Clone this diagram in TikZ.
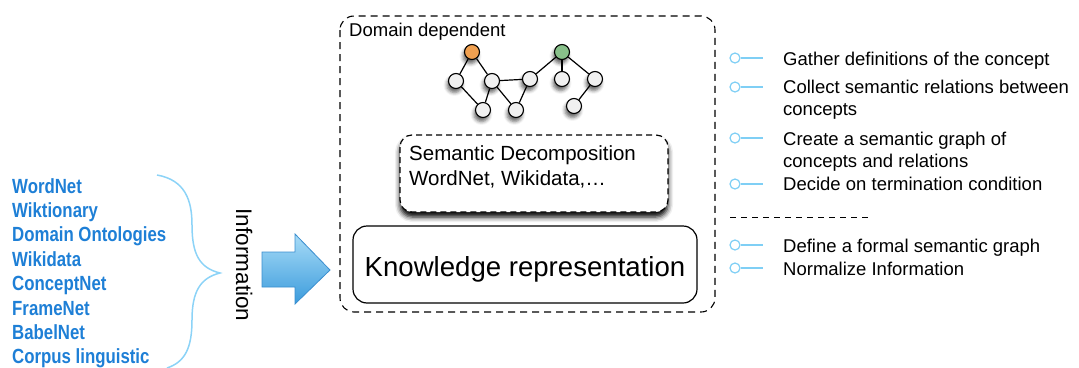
\documentclass[tikz,border=0pt]{standalone}
\usepackage{fontspec}
\setmainfont{Liberation Sans}
\newfontfamily\condfont[FakeStretch=0.82]{Liberation Sans}
\usetikzlibrary{shadows.blur}
\definecolor{srcblue}{HTML}{1E7FD6}
\definecolor{bracecol}{HTML}{8CD3F7}
\definecolor{bulletcol}{HTML}{7FCFF5}
\definecolor{arrowtop}{HTML}{A8DCF7}
\definecolor{arrowbot}{HTML}{3B9BDC}
\definecolor{arrowedge}{HTML}{3A8ECF}
\definecolor{orangenode}{HTML}{F0A050}
\definecolor{greennode}{HTML}{88C08A}
\tikzset{
  gnode/.style={circle, draw=black, line width=1.1pt, fill=gray!12, minimum size=15pt, inner sep=0pt,
    blur shadow={shadow xshift=-1.5pt, shadow yshift=-4pt, shadow blur radius=3.5pt, shadow opacity=60}},
  gedge/.style={line width=1.2pt, black},
  srctext/.style={font=\condfont\bfseries\fontsize{20.5}{24}\selectfont, text=srcblue, anchor=base west, inner sep=0pt},
  righttext/.style={font=\fontsize{18.5}{22}\selectfont, anchor=base west, inner sep=0pt},
  bullet/.style={circle, draw=bulletcol, line width=1.2pt, minimum size=10pt, inner sep=0pt, fill=white},
  bline/.style={draw=bulletcol, line width=1.2pt},
  outerdash/.style={dashed, dash pattern=on 7pt off 5pt, line width=1.1pt},
}
\begin{document}
\begin{tikzpicture}[x=1pt,y=-1pt]
\useasboundingbox (0,0) rectangle (1079,367);

% outer dashed box
\draw[outerdash, rounded corners=14pt] (340,16) rectangle (715,312);
\node[anchor=base west, inner sep=0pt, font=\fontsize{18.5}{22}\selectfont] (dd) at (349,36) {Domain dependent};

% graph
\node[gnode, fill=orangenode] (o) at (472,52) {};
\node[gnode, fill=greennode] (g) at (562,52) {};
\node[gnode] (n1) at (456,81) {};
\node[gnode] (n2) at (492,81) {};
\node[gnode] (n3) at (530,79) {};
\node[gnode] (n4) at (562,79) {};
\node[gnode] (n5) at (595,79) {};
\node[gnode] (n6) at (483,110) {};
\node[gnode] (n7) at (516,110) {};
\node[gnode] (n8) at (574,106) {};
\draw[gedge] (o) -- (n1);
\draw[gedge] (o) -- (n2);
\draw[gedge] (n1) -- (n6);
\draw[gedge] (n2) -- (n6);
\draw[gedge] (n2) -- (n3);
\draw[gedge] (n2) -- (n7);
\draw[gedge] (n3) -- (n7);
\draw[gedge] (n3) -- (g);
\draw[gedge] (g) -- (n4);
\draw[gedge] (g) -- (n5);
\draw[gedge] (n5) -- (n8);

% semantic decomposition box
\draw[dashed, dash pattern=on 6pt off 4pt, line width=1.2pt, rounded corners=12pt, fill=white,
  blur shadow={shadow xshift=0pt, shadow yshift=-5pt, shadow blur radius=5pt, shadow opacity=100}]
  (400,135) rectangle (668,212);
\node[anchor=base west, inner sep=0pt, font=\fontsize{20.5}{25}\selectfont] (sd1) at (409,160) {Semantic Decomposition};
\node[anchor=base west, inner sep=0pt, font=\fontsize{20.5}{25}\selectfont] (sd2) at (409,185) {WordNet, Wikidata,\dots};

% knowledge representation box
\node[draw, line width=1.2pt, rounded corners=14pt, minimum width=344pt, minimum height=77pt, inner sep=0pt] (kr) at (525,264.5) {};
\node[anchor=base, inner sep=0pt, font=\fontsize{27.6}{32}\selectfont] (krt) at (525,276) {Knowledge representation};

% sources
\node[srctext] (s1) at (12,193) {WordNet};
\node[srctext] (s2) at (12,217.4) {Wiktionary};
\node[srctext] (s3) at (12,241.8) {Domain Ontologies};
\node[srctext] (s4) at (12,266.2) {Wikidata};
\node[srctext] (s5) at (12,290.6) {ConceptNet};
\node[srctext] (s6) at (12,315) {FrameNet};
\node[srctext] (s7) at (12,339.4) {BabelNet};
\node[srctext] (s8) at (12,363.8) {Corpus linguistic};

% brace
\draw[bracecol, line width=1.5pt]
  (157,175) .. controls (185,180) and (192,200) .. (192,225)
  .. controls (192,255) and (200,268) .. (220,273)
  .. controls (200,278) and (192,292) .. (192,320)
  .. controls (192,348) and (185,362) .. (167,368);

% Information
\node[rotate=-90, anchor=base, inner sep=0pt, font=\fontsize{22.5}{26}\selectfont] (info) at (236,265) {Information};

% block arrow
\shade[top color=arrowtop, bottom color=arrowbot, draw=arrowedge, line width=0.8pt]
  (262,252) -- (295,252) -- (295,234) -- (330,270) -- (295,304) -- (295,287) -- (262,287) -- cycle;

% right list
\foreach \y/\n in {58/b1,87/b2,138/b3,184/b4,245/b5,268/b6}{
  \coordinate (\n e) at (763,\y);
  \node[bullet] (\n) at (735,\y) {};
  \draw[bline] (\n) -- (\n e);
}
\node[righttext] (r1) at (783,65) {Gather definitions of the concept};
\node[righttext] (r2) at (783,93) {Collect semantic relations between};
\node[righttext] (r2b) at (783,115) {concepts};
\node[righttext] (r3) at (783,145) {Create a semantic graph of};
\node[righttext] (r3b) at (783,167) {concepts and relations};
\node[righttext] (r4) at (783,190) {Decide on termination condition};
\coordinate (dl1) at (730,217);
\coordinate (dl2) at (871,217);
\draw[dashed, dash pattern=on 6pt off 5pt, line width=1pt] (dl1) -- (dl2);
\node[righttext] (r5) at (783,252) {Define a formal semantic graph};
\node[righttext] (r6) at (783,275) {Normalize Information};
\end{tikzpicture}
\end{document}
